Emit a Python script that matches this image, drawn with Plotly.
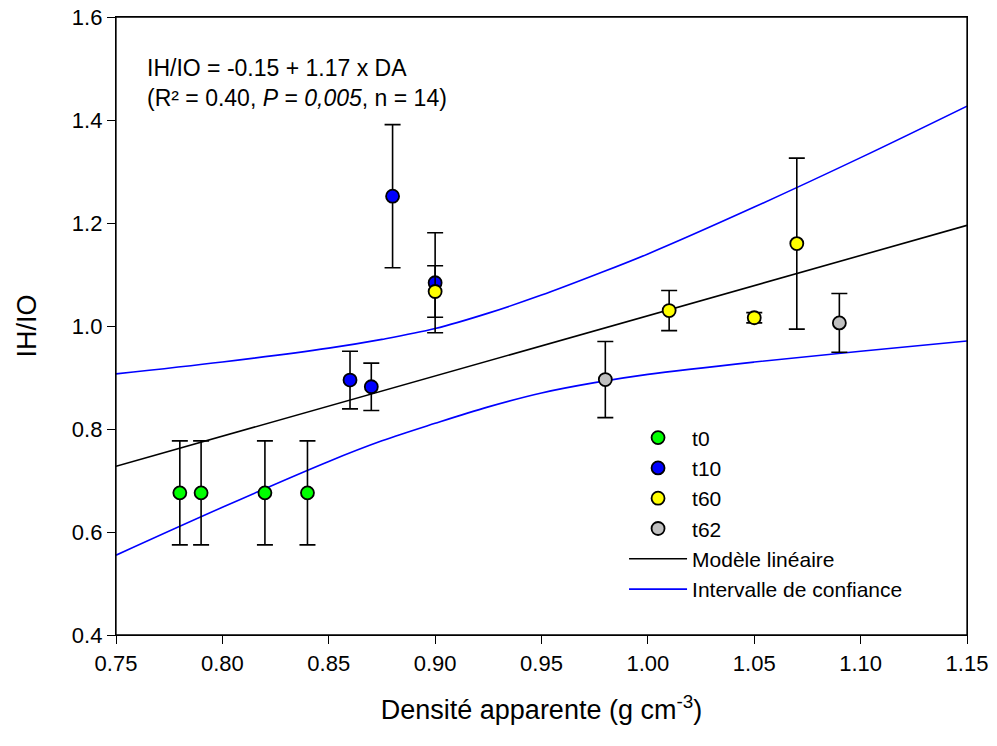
import plotly.graph_objects as go

# ---- data ----
t0_x = [0.78, 0.79, 0.82, 0.84]
t0_y = [0.676, 0.676, 0.676, 0.676]
t0_err = [0.101, 0.101, 0.101, 0.101]

t10_x = [0.86, 0.87, 0.88, 0.90]
t10_y = [0.895, 0.882, 1.252, 1.084]
t10_err = [0.056, 0.046, 0.139, 0.097]

t60_x = [0.90, 1.01, 1.05, 1.07]
t60_y = [1.067, 1.030, 1.016, 1.160]
t60_err = [0.050, 0.039, 0.010, 0.166]

t62_x = [0.98, 1.09]
t62_y = [0.896, 1.006]
t62_err = [0.074, 0.057]

model_x = [0.75, 1.15]
model_y = [0.7275, 1.1955]

ci_x = [0.75, 0.80, 0.85, 0.875, 0.90, 0.925, 0.95, 0.975, 1.00, 1.05, 1.10, 1.15]
ci_upper = [0.907, 0.930, 0.957, 0.974, 0.995, 1.025, 1.060, 1.099, 1.140, 1.231, 1.327, 1.427]
ci_lower = [0.555, 0.648, 0.737, 0.777, 0.811, 0.843, 0.870, 0.890, 0.906, 0.930, 0.951, 0.971]

x_ticks = [0.75, 0.80, 0.85, 0.90, 0.95, 1.00, 1.05, 1.10, 1.15]
y_ticks = [0.4, 0.6, 0.8, 1.0, 1.2, 1.4, 1.6]

FONT = "Liberation Sans, Arial, sans-serif"

fig = go.Figure()

fig.add_trace(go.Scatter(x=ci_x, y=ci_upper, mode="lines", line=dict(color="#0000ff", width=1.6, shape="spline"),
                         name="Intervalle de confiance", legendrank=6))
fig.add_trace(go.Scatter(x=ci_x, y=ci_lower, mode="lines", line=dict(color="#0000ff", width=1.6, shape="spline"),
                         name="Intervalle de confiance", showlegend=False))
fig.add_trace(go.Scatter(x=model_x, y=model_y, mode="lines", line=dict(color="black", width=1.6),
                         name="Modèle linéaire", legendrank=5))

def pts(x, y, e, color, name, rank):
    fig.add_trace(go.Scatter(
        x=x, y=y, mode="markers", name=name, legendrank=rank,
        marker=dict(size=13, color=color, line=dict(color="black", width=1.8)),
        error_y=dict(type="data", array=e, visible=True, color="black", thickness=1.6, width=8),
    ))

pts(t0_x, t0_y, t0_err, "#00ff00", "t0", 1)
pts(t10_x, t10_y, t10_err, "#0000ff", "t10", 2)
pts(t60_x, t60_y, t60_err, "#ffff00", "t60", 3)
pts(t62_x, t62_y, t62_err, "#c0c0c0", "t62", 4)

fig.add_annotation(
    x=0, y=1, xref="paper", yref="paper", xanchor="left", yanchor="top",
    xshift=29, yshift=-36, align="left", showarrow=False,
    text="IH/IO = -0.15 + 1.17 x DA<br>(R² = 0.40, <i>P</i> = <i>0,005</i>, n = 14)",
    font=dict(family=FONT, size=23, color="black"),
)

# plot frame (box around the plotting area)
fig.add_shape(type="rect", xref="paper", yref="paper", x0=0, y0=0, x1=1, y1=1,
              line=dict(color="black", width=1.3), layer="above")

# page body has an 8px margin: figure is sized/margined to land the plot at the reference position
fig.update_layout(
    width=989, height=738,
    margin=dict(l=108, r=30, t=9, b=111, autoexpand=False),
    paper_bgcolor="white", plot_bgcolor="white",
    font=dict(family=FONT, color="black"),
    showlegend=True,
    legend=dict(x=0.597, y=0.352, xanchor="left", yanchor="top", bgcolor="rgba(0,0,0,0)",
                font=dict(family=FONT, size=21, color="black"), tracegroupgap=0, itemwidth=58),
    xaxis=dict(range=[0.75, 1.15], tickvals=x_ticks, tickformat=".2f", automargin=False,
               showgrid=False, zeroline=False, showline=True, linecolor="black", linewidth=1.3,
               mirror=True, ticks="outside", ticklen=8, tickwidth=1.3, tickcolor="black",
               ticklabeloverflow="allow",
               tickfont=dict(family=FONT, size=22, color="black"),
               title=dict(text="Densité apparente (g cm<sup>-3</sup>)", standoff=25,
                          font=dict(family=FONT, size=27, color="black"))),
    yaxis=dict(range=[0.4, 1.6], tickvals=y_ticks, tickformat=".1f", automargin=False,
               showgrid=False, zeroline=False, showline=True, linecolor="black", linewidth=1.3,
               mirror=True, ticks="outside", ticklen=8, tickwidth=1.3, tickcolor="black",
               ticklabeloverflow="allow",
               tickfont=dict(family=FONT, size=22, color="black"),
               title=dict(text="IH/IO", standoff=27,
                          font=dict(family=FONT, size=27, color="black"))),
)

fig.write_html("out.html")
